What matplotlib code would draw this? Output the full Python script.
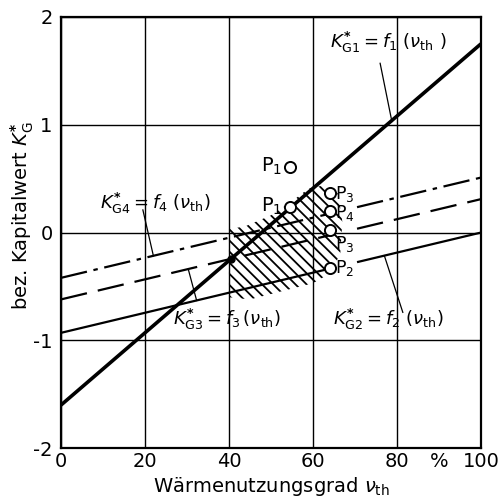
import numpy as np
import matplotlib
matplotlib.use("Agg")
import matplotlib.pyplot as plt

# ---- data ----
nu_ends = [0, 100]
f1 = [-1.60, 1.75]
f2 = [-0.93, 0.00]
f3 = [-0.62, 0.31]
f4 = [-0.42, 0.51]

x_ticks = [0, 20, 40, 60, 80, 100]
x_tick_labels = ['0', '20', '40', '60', '80', '100']
y_ticks = [-2, -1, 0, 1, 2]
y_tick_labels = ['-2', '-1', '0', '1', '2']

point_labels = ['P$_1$', 'P$_1$', 'P$_3$', 'P$_4$', 'P$_3$', 'P$_2$']
point_x = [54.5, 54.5, 64, 64, 64, 64]
point_y = [0.61, 0.24, 0.37, 0.20, 0.02, -0.33]

hatch_x = [40, 44, 50, 55, 59, 63, 66, 67, 66.5, 64, 60, 55, 50, 45, 40]
hatch_y = [0.03, 0.06, 0.16, 0.29, 0.41, 0.44, 0.36, 0.10, -0.20, -0.38, -0.47, -0.52, -0.57, -0.62, -0.60]

plt.rcParams['mathtext.fontset'] = 'dejavusans'
plt.rcParams['hatch.linewidth'] = 1.3

fig = plt.figure(figsize=(5.02, 4.98), dpi=100)
ax = fig.add_axes([0.1215, 0.100, 0.8365, 0.866])
ax.set_xlim(0, 100)
ax.set_ylim(-2, 2)

# grid
ax.set_xticks(x_ticks)
ax.set_xticklabels(x_tick_labels)
ax.set_xticks([90], minor=True)
ax.set_xticklabels(['%'], minor=True)
ax.set_yticks(y_ticks)
ax.set_yticklabels(y_tick_labels)
ax.grid(True, which='major', color='black', lw=1.0)
ax.tick_params(which='both', length=0, labelsize=14)
ax.tick_params(axis='x', which='both', pad=3)
ax.tick_params(axis='y', pad=6)
for s in ax.spines.values():
    s.set_linewidth(1.6)

# hatched region
ax.fill(hatch_x, hatch_y, facecolor='none', edgecolor='black', lw=0, hatch='\\\\\\', zorder=1)

def seg(ys, a, b, **kw):
    xs = np.array([a, b])
    ax.plot(xs, np.interp(xs, nu_ends, ys), color='black', solid_capstyle='butt', **kw)

seg(f1, 0, 100, lw=2.6, zorder=4)
seg(f2, 0, 64, lw=1.6, zorder=3)
seg(f2, 70.5, 100, lw=1.6, zorder=3)
seg(f3, 0, 64, lw=1.6, dashes=(12, 5), zorder=3)
seg(f3, 70.5, 100, lw=1.6, dashes=(12, 5), zorder=3)
seg(f4, 0, 64, lw=1.6, dashes=(12, 3, 2, 3), zorder=3)
seg(f4, 70.5, 100, lw=1.6, dashes=(12, 3, 2, 3), zorder=3)

# intersection dot f1/f3
xi = (f3[0] - f1[0]) / ((f1[1] - f1[0]) / 100 - (f3[1] - f3[0]) / 100)
ax.plot([xi], [np.interp(xi, nu_ends, f1)], 'o', color='black', ms=5, zorder=5)

# points
ax.plot(point_x, point_y, 'o', mfc='white', mec='black', mew=1.4, ms=8, zorder=6, ls='none')
offsets = [(-1, 0.0), (-1, 0.0), (1, -0.01), (1, -0.02), (1, -0.13), (1, 0.0)]
for lab, px, py, (side, dy) in zip(point_labels, point_x, point_y, offsets):
    if side < 0:
        ax.text(px - 1.8, py + dy, lab, ha='right', va='center', fontsize=14, zorder=7)
    else:
        ax.text(px + 1.2, py + dy, lab, ha='left', va='center', fontsize=12.5, zorder=7)

# annotations
fs = 13
ax.text(64, 1.76, r'$K^{\boldsymbol{*}}_{\mathrm{G1}} = f_1\ (\nu_{\mathrm{th}}\ )$', fontsize=fs, va='center', ha='left')
ax.plot([76, 78.8], [1.57, 1.03], color='black', lw=0.9)
ax.text(9.3, 0.27, r'$K^{\boldsymbol{*}}_{\mathrm{G4}} = f_4\ (\nu_{\mathrm{th}})$', fontsize=fs, va='center', ha='left')
ax.plot([19.5, 22], [0.21, np.interp(22, nu_ends, f4)], color='black', lw=0.9)
ax.text(26.7, -0.81, r'$K^{\boldsymbol{*}}_{\mathrm{G3}} = f_3\,(\nu_{\mathrm{th}})$', fontsize=fs, va='center', ha='left')
ax.plot([32.3, 30.3], [-0.63, np.interp(30.3, nu_ends, f3)], color='black', lw=0.9)
ax.text(64.8, -0.81, r'$K^{\boldsymbol{*}}_{\mathrm{G2}} = f_2\ (\nu_{\mathrm{th}})$', fontsize=fs, va='center', ha='left')
ax.plot([81.4, 77], [-0.74, np.interp(77, nu_ends, f2)], color='black', lw=0.9)

ax.set_xlabel(r'Wärmenutzungsgrad $\nu_{\mathrm{th}}$', fontsize=14, va='center')
ax.xaxis.set_label_coords(0.5, -0.088)
ax.set_ylabel(r'bez. Kapitalwert $K^{\boldsymbol{*}}_{\mathrm{G}}$', fontsize=14, va='center')
ax.yaxis.set_label_coords(-0.093, 0.54)

fig.savefig('out.png', dpi=100)
